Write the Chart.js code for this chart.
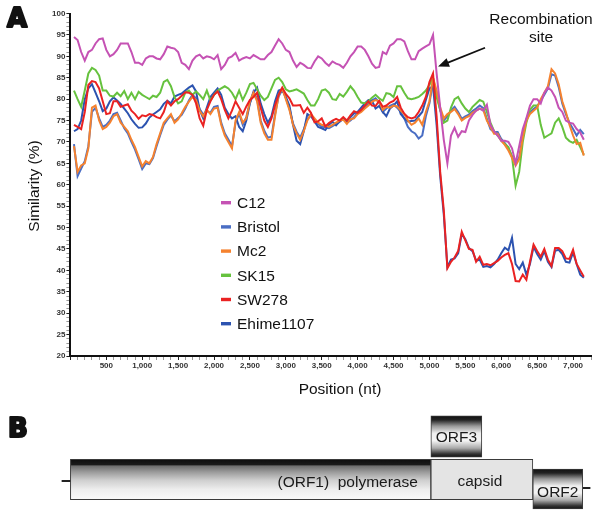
<!DOCTYPE html>
<html>
<head>
<meta charset="utf-8">
<script src="https://cdn.jsdelivr.net/npm/chart.js@4.4.1/dist/chart.umd.min.js"></script>
<style>
  body { margin: 0; background: #fff; }
  #wrap { position: relative; width: 600px; height: 515px; }
  canvas { position: absolute; left: 0; }
  #simChart { top: 0; }
  #genomeChart { top: 400px; }
</style>
</head>
<body>
<div id="wrap">
  <canvas id="simChart" width="600" height="400"></canvas>
  <canvas id="genomeChart" width="600" height="115"></canvas>
</div>
<script>
// ---- data ----
const positions = [
  50, 100, 150, 200, 250, 300, 350, 400, 450, 500,
  550, 600, 650, 700, 750, 800, 850, 900, 950, 1000,
  1050, 1100, 1150, 1200, 1250, 1300, 1350, 1400, 1450, 1500,
  1550, 1600, 1650, 1700, 1750, 1800, 1850, 1900, 1950, 2000,
  2050, 2100, 2150, 2200, 2250, 2300, 2350, 2400, 2450, 2500,
  2550, 2600, 2650, 2700, 2750, 2800, 2850, 2900, 2950, 3000,
  3050, 3100, 3150, 3200, 3250, 3300, 3350, 3400, 3450, 3500,
  3550, 3600, 3650, 3700, 3750, 3800, 3850, 3900, 3950, 4000,
  4050, 4100, 4150, 4200, 4250, 4300, 4350, 4400, 4450, 4500,
  4550, 4600, 4650, 4700, 4750, 4800, 4850, 4900, 4950, 5000,
  5050, 5100, 5150, 5200, 5250, 5300, 5350, 5400, 5450, 5500,
  5550, 5600, 5650, 5700, 5750, 5800, 5850, 5900, 5950, 6000,
  6050, 6100, 6150, 6200, 6250, 6300, 6350, 6400, 6450, 6500,
  6550, 6600, 6650, 6700, 6750, 6800, 6850, 6900, 6950, 7000,
  7050, 7100, 7150
];

const c12 = [
  94.5, 93.8, 91, 89, 91, 91.5, 93, 94, 94.2, 91.5,
  90, 90.5, 91.5, 93, 93, 93, 91, 88.5, 88.5, 88,
  89.5, 90, 90, 89.5, 89.3, 90.5, 92.3, 92, 91.8, 91,
  88.5, 88, 87, 89, 90, 90.4, 89.5, 90, 89.8, 89.3,
  90.3, 87, 88, 89.6, 90, 90.8, 89, 89.5, 89.8, 89.5,
  90.3, 89.8, 89.3, 89.3, 90.3, 91, 92.5, 94, 93, 91.5,
  91, 89, 87.5, 88.5, 88, 87.3, 87.2, 88.8, 90, 89.5,
  88.5, 87.8, 88.8, 88.3, 88, 87.3, 88.5, 90, 91, 92.3,
  92.3, 91.5, 90, 88.3, 87.3, 87.5, 91, 90.5, 92.5, 93,
  94, 94, 93.5, 91.2, 89.3, 89.3, 91.2, 91.8, 92.3, 92.8,
  95, 86, 78, 70.5, 65, 71.5, 73.3, 71.2, 72.5, 72.3,
  75, 76.3, 77.3, 77.8, 77.3, 78.7, 74, 72.5, 71.5, 70.3,
  70.3, 70, 68.5, 65, 69, 73, 75.5, 78.5, 80, 80,
  79, 81.5, 82.7, 82, 80.5, 78, 77, 75, 74.5, 74.3,
  73, 72.2, 70.5
];

const bristol = [
  69.5, 62, 63.8, 65.5, 69, 77, 78, 75.5, 73.5, 74,
  75, 76.5, 76.8, 75, 73.2, 72, 70, 68.2, 66, 63.7,
  65, 64.8, 66.2, 69, 71.6, 74, 75.2, 76.2, 74.8, 75.6,
  76.3, 77.8, 79.7, 81, 80.2, 77.7, 76.4, 77.2, 76.8, 78.2,
  78.4, 74.5, 72, 70.6, 69, 74.5, 76.6, 74, 75.8, 79.2,
  81.8, 80, 75, 72.6, 71, 71.2, 76.5, 80.6, 82.2, 80.3,
  77.8, 74.3, 72.4, 71, 72.9, 75.3, 76.2, 75.2, 74.2, 73.6,
  73.4, 73.2, 73.7, 74.2, 74.7, 75.5, 74.5, 75, 75.8, 76.8,
  77.4, 78.1, 78.8, 79.7, 80.2, 79.2, 77, 77.8, 78.4, 78.8,
  78, 77, 75.5, 73.5, 72.5, 72, 70.8, 71.5, 76, 79,
  84, 81.3, 77.4, 75, 76, 77.4, 78.2, 77, 75.4, 76,
  76.4, 77.2, 77.8, 78.5, 77.9, 75.4, 73, 72.3, 72.3, 70.7,
  69.7, 68.5, 66.6, 65, 66.4, 71.4, 75.4, 76.9, 77.7, 78.3,
  79.6, 81, 82.5, 85.8, 85.5, 82.8, 79, 76.5, 74.5, 73,
  71.5, 72.8, 71.8
];

const mc2 = [
  69, 63, 64.5, 65, 68.5, 78, 78.5, 75, 73, 73.5,
  74.5, 76, 76.5, 74.5, 73.5, 72.5, 70.5, 68.8, 66.5, 64.3,
  65.5, 65, 66.5, 69.5, 72, 74.5, 75.5, 76.5, 74.5, 75.3,
  76.7, 78.2, 79.4, 80.5, 79.8, 77.3, 76, 77.5, 76.5, 77.8,
  78, 74, 71.5, 70, 68.5, 75, 77, 74.5, 75.5, 79.5,
  81.5, 79.5, 74.5, 72, 70.5, 70.5, 76, 81, 82.5, 80,
  77.5, 74, 72, 70.5, 72.5, 75, 76.5, 75.5, 74.5, 74,
  73.8, 73.5, 74, 74.5, 75, 75.2, 74.2, 75.3, 75.5, 76.5,
  77, 77.8, 78.5, 79.4, 79.8, 79.5, 77.5, 78.2, 78, 78.5,
  78.3, 77.3, 76.5, 75, 74, 74.5, 75.5, 74, 77, 79.5,
  85, 82, 78, 75.5, 76.5, 77, 77.7, 76.5, 75, 75.6,
  76, 76.8, 77.3, 77.8, 77.5, 75, 73.5, 71.9, 71.9, 70.3,
  69.3, 68, 66.3, 64.5, 66, 71, 75, 76.5, 77.3, 78,
  80, 81.5, 83, 87, 86, 83.5, 79.5, 77, 74, 71.5,
  69.5, 69.8, 66.8
];

const sk15 = [
  82, 80, 78.2, 82, 86, 87.3, 86.8, 85.5, 82, 82,
  80.8, 80.6, 81.5, 80.7, 81.9, 80, 81.5, 80, 81.7, 81,
  80.5, 80, 80.8, 80.5, 81.5, 84, 84.5, 83, 80.5, 79,
  79.5, 81.5, 82, 81, 81.8, 81, 80, 82, 79.7, 81,
  82, 82.5, 83, 82.5, 81.5, 80, 82, 79.8, 81.5, 83.5,
  83.8, 82.3, 80.8, 79.8, 80.5, 82.5, 84.5, 85, 84, 82.3,
  81.8, 82, 82.3, 81.8, 81.3, 79.8, 78.5, 78.5, 80, 82,
  82.3, 81.5, 80, 79.8, 81.2, 80.6, 81.7, 83, 82, 80.5,
  79.2, 79, 79.5, 80.3, 81, 80.2, 79.6, 81.4, 81.2, 80.5,
  83, 83, 81.5, 80.2, 80, 80.2, 80.5, 81.2, 82, 83.3,
  85, 80.5, 77.5, 74.5, 75, 78, 80, 80.5, 79, 77.8,
  77, 78.2, 79, 79.8, 79.4, 77, 74.5, 72.5, 71.5, 70.3,
  69.5, 68.8, 66.5, 59.8, 63, 70, 74.5, 77.5, 78.5, 78.5,
  74, 71, 71.5, 72, 74.5, 75.5, 73.5, 71, 70.2, 69.8,
  70.5, 68.8, 67
];

const sw278 = [
  74, 73.5, 73, 77, 83.3, 84.2, 84, 82.5, 79.5, 76.5,
  76.7, 79.5, 79.5, 78.2, 78.5, 78.8, 77.3, 76.5, 75.4, 76.2,
  76, 76.5, 76.3, 75.8, 75.5, 77, 79.5, 78.5, 79.5, 80,
  80.8, 81.6, 81.5, 81, 79, 75.5, 73.8, 77.5, 79.5, 81,
  81.8, 80, 77.5, 75.5, 77.3, 79.5, 78, 76.5, 78.3, 79.8,
  80.5, 81.5, 78, 75, 73.5, 75.5, 78.5, 81, 82.7, 81.2,
  80.2, 78.5, 78.5, 78.6, 76.8, 78, 76.8, 74.6, 74.8, 75.5,
  73.6, 74.4, 75, 75.4, 75, 75.8, 75, 76.2, 77.2, 76.8,
  77.5, 78.5, 79.5, 78.5, 78.4, 79.6, 78.2, 78.5, 79.2, 79.6,
  80.5, 78, 76.6, 75.8, 75.5, 75.8, 77, 78.5, 80.5, 84,
  86, 76, 63, 54, 40.5, 42, 43, 44.5, 49, 47,
  45, 44.8, 42, 43.2, 41.3, 41.5, 41.2, 41.7, 42.2, 43,
  43.6, 44, 41.5, 37.5, 37.4, 39, 37.8, 42, 46, 44.5,
  43.2, 45, 42.5, 41, 45.2, 45.2, 44.5, 42.8, 42.7, 44.8,
  41.5, 40, 38.5
];

const ehime1107 = [
  72.5, 73, 75, 80, 82.5, 83.5, 81.5, 79.5, 77.2, 77.8,
  79.5, 80.4, 79.7, 78.9, 77.8, 76.7, 75.3, 74.2, 73.3, 73.4,
  74.3, 75.7, 76.4, 77, 77.6, 78.9, 79.6, 79, 80.6, 81,
  81.3, 82, 82.7, 83.2, 81.8, 77.5, 75.5, 78, 80.5, 81.5,
  82.5, 81, 78, 76.5, 75.5, 76, 73.5, 72.5, 75, 79,
  81.5, 82.7, 79, 76.5, 74.5, 76, 79.5, 82, 82.3, 80.5,
  78.5, 74, 70.3, 69.5, 72.5, 76.5, 76, 74.8, 73.5, 73.2,
  72.8, 74, 74.7, 73.9, 74.8, 75.3, 74.7, 75.8, 76.7, 77,
  78, 79, 79.8, 79.6, 77.8, 78.4, 77, 76, 77.8, 78.5,
  79.5, 76.5, 75.5, 74.8, 74.9, 75, 76, 77, 79.8, 82.5,
  83, 74, 62, 53, 40.8, 42.5, 42.8, 44, 48.5, 47.3,
  45.2, 44.5, 42.3, 42.5, 40.8, 41, 40.7, 41.5, 42.5, 44,
  45.3, 44.7, 47.6, 41.5, 40.3, 41.8, 39, 41.5, 45.5, 43.8,
  42.5, 44.5, 42, 40.8, 44.6, 44.8, 43.8, 42, 41.8, 44.2,
  41.5, 39, 38.3
];

const seriesNames = ['C12', 'Bristol', 'Mc2', 'SK15', 'SW278', 'Ehime1107'];
const seriesValues = [c12, bristol, mc2, sk15, sw278, ehime1107];

// genome map (nt)
const geneLabels = ['(ORF1)  polymerase', 'capsid', 'ORF3', 'ORF2'];
const geneStart = [0, 5020, 5020, 6440];
const geneEnd = [5020, 6440, 5730, 7135];
const leftFlank = [-117, 0];
const rightFlank = [7135, 7237];

// ---- styles / layout ----
const FONT = "'Liberation Sans', Arial, sans-serif";
const seriesColors = ['#c552b4', '#4a6ec4', '#f5822f', '#66c23e', '#ea2222', '#2c53b0'];
const drawOrder = [0, 5, 2, 3, 1, 4]; // lower = drawn on top

function withCommas(v) {
  return String(v).replace(/\B(?=(\d{3})+(?!\d))/g, ',');
}

function panelLetter(ctx, txt, x, y) {
  ctx.fillStyle = '#111';
  ctx.strokeStyle = '#111';
  ctx.lineWidth = 2.2;
  ctx.lineJoin = 'round';
  ctx.font = "bold 26px 'DejaVu Sans', sans-serif";
  ctx.textAlign = 'left';
  ctx.textBaseline = 'middle';
  ctx.strokeText(txt, x, y);
  ctx.fillText(txt, x, y);
}

const panelA = {
  id: 'panelA',
  afterDraw(chart) {
    const ctx = chart.ctx;
    const x = chart.scales.x, y = chart.scales.y;
    ctx.save();

    panelLetter(ctx, 'A', 7, 20);

    // axis titles
    ctx.font = '15.5px ' + FONT;
    ctx.fillStyle = '#111';
    ctx.textAlign = 'center';
    ctx.fillText('Position (nt)', 340, 390);
    ctx.save();
    ctx.translate(35, 186);
    ctx.rotate(-Math.PI / 2);
    ctx.fillText('Similarity (%)', 0, 0);
    ctx.restore();

    // legend
    chart.data.datasets.forEach((ds, i) => {
      const ly = 202.7 + 24.2 * i;
      ctx.fillStyle = ds.borderColor;
      ctx.fillRect(221, ly - 1.7, 10, 3.4);
      ctx.fillStyle = '#111';
      ctx.textAlign = 'left';
      ctx.fillText(ds.label, 237, ly + 1);
    });

    // recombination site annotation
    ctx.textAlign = 'center';
    ctx.fillText('Recombination', x.getPixelForValue(6554), y.getPixelForValue(98.5));
    ctx.fillText('site', x.getPixelForValue(6554), y.getPixelForValue(94.3));

    const tx = x.getPixelForValue(5120), ty = y.getPixelForValue(87.6);
    const sx = x.getPixelForValue(5774), sy = y.getPixelForValue(92.0);
    const ang = Math.atan2(ty - sy, tx - sx);
    ctx.strokeStyle = '#111';
    ctx.lineWidth = 1.8;
    ctx.beginPath();
    ctx.moveTo(sx, sy);
    ctx.lineTo(tx - 8 * Math.cos(ang), ty - 8 * Math.sin(ang));
    ctx.stroke();
    ctx.fillStyle = '#111';
    ctx.beginPath();
    ctx.moveTo(tx, ty);
    ctx.lineTo(tx - 11 * Math.cos(ang) + 4.5 * Math.sin(ang), ty - 11 * Math.sin(ang) - 4.5 * Math.cos(ang));
    ctx.lineTo(tx - 11 * Math.cos(ang) - 4.5 * Math.sin(ang), ty - 11 * Math.sin(ang) + 4.5 * Math.cos(ang));
    ctx.closePath();
    ctx.fill();
    ctx.restore();
  }
};

new Chart(document.getElementById('simChart'), {
  type: 'line',
  data: {
    labels: positions,
    datasets: seriesNames.map((name, i) => ({
      label: name,
      data: seriesValues[i],
      borderColor: seriesColors[i],
      borderWidth: 2,
      pointRadius: 0,
      tension: 0,
      order: drawOrder[i]
    }))
  },
  options: {
    responsive: false,
    animation: false,
    layout: { padding: { left: 0, top: 13.5, right: 9, bottom: 0 } },
    plugins: { legend: { display: false }, tooltip: { enabled: false } },
    scales: {
      x: {
        type: 'linear',
        min: 0,
        max: 7250,
        afterFit: (s) => { s.height = 44; },
        ticks: {
          stepSize: 100,
          maxTicksLimit: 1000,
          autoSkip: false,
          maxRotation: 0,
          minRotation: 0,
          padding: 1,
          color: '#333',
          font: { family: FONT, size: 8, weight: 'bold' },
          callback: (v) => (v > 0 && v % 500 === 0) ? withCommas(v) : ''
        },
        grid: {
          drawOnChartArea: false,
          drawTicks: true,
          tickLength: 4,
          tickColor: (c) => (c.tick && c.tick.value % 500 === 0) ? '#222' : '#999'
        },
        border: { display: true, color: '#111', width: 2 }
      },
      y: {
        min: 20,
        max: 100,
        afterFit: (s) => { s.width = 70.4; },
        ticks: {
          stepSize: 1,
          maxTicksLimit: 1000,
          autoSkip: false,
          padding: 1,
          color: '#333',
          font: { family: FONT, size: 8, weight: 'bold' },
          callback: (v) => (v % 5 === 0) ? v : ''
        },
        grid: {
          drawOnChartArea: false,
          drawTicks: true,
          tickLength: 4,
          tickColor: (c) => (c.tick && c.tick.value % 5 === 0) ? '#222' : '#999'
        },
        border: { display: true, color: '#111', width: 2 }
      }
    }
  },
  plugins: [panelA]
});

// ---- panel B: genome map ----
const geneRow = [79.5, 79.5, 36.5, 89];
const geneHeight = [40.5, 40.5, 41.5, 40];

function bandGradient(chart, row, h, stops) {
  const yPix = chart.scales.y.getPixelForValue(row);
  if (!isFinite(yPix)) return '#ccc';
  const g = chart.ctx.createLinearGradient(0, yPix - h / 2, 0, yPix + h / 2);
  stops.forEach((s) => g.addColorStop(s[0], s[1]));
  return g;
}

const orf1Stops = [[0, '#0d0d0d'], [0.13, '#1a1a1a'], [0.17, '#6e6e6e'], [0.32, '#9c9c9c'], [0.52, '#cfcfcf'], [0.75, '#eeeeee'], [1, '#fafafa']];
const tubeStops = [[0, '#111'], [0.1, '#222'], [0.25, '#999'], [0.42, '#eeeeee'], [0.6, '#f4f4f4'], [0.78, '#aaa'], [0.92, '#333'], [1, '#111']];
const geneFill = [
  (c) => bandGradient(c.chart, geneRow[0], geneHeight[0], orf1Stops),
  '#e4e4e4',
  (c) => bandGradient(c.chart, geneRow[2], geneHeight[2], tubeStops),
  (c) => bandGradient(c.chart, geneRow[3], geneHeight[3], tubeStops)
];
const labelShift = [[-13, 3, 'right'], [-2, 2.5, 'center'], [0, 1.5, 'center'], [0, 4, 'center']];

const panelB = {
  id: 'panelB',
  afterDatasetsDraw(chart) {
    const ctx = chart.ctx;
    ctx.save();
    panelLetter(ctx, 'B', 8, 30);

    ctx.font = '15.5px ' + FONT;
    ctx.fillStyle = '#1a1a1a';
    geneLabels.forEach((txt, i) => {
      const el = chart.getDatasetMeta(i).data[0];
      const left = Math.min(el.x, el.base), right = Math.max(el.x, el.base);
      const [dx, dy, align] = labelShift[i];
      ctx.textAlign = align;
      const px = align === 'right' ? right + dx : (left + right) / 2 + dx;
      ctx.fillText(txt, px, el.y + dy);
    });
    ctx.restore();
  }
};

new Chart(document.getElementById('genomeChart'), {
  type: 'bar',
  data: {
    datasets: geneLabels.map((name, i) => ({
      label: name,
      data: [{ x: [geneStart[i], geneEnd[i]], y: geneRow[i] }],
      backgroundColor: geneFill[i],
      borderColor: '#3a3a3a',
      borderWidth: 1,
      borderSkipped: false,
      barThickness: geneHeight[i]
    })).concat([{
      label: 'genome',
      data: [{ x: leftFlank, y: 81 }, { x: rightFlank, y: 88 }],
      backgroundColor: '#222',
      borderWidth: 0,
      barThickness: 1.5
    }])
  },
  options: {
    responsive: false,
    animation: false,
    indexAxis: 'y',
    datasets: { bar: { grouped: false } },
    layout: { padding: { left: 59.6, right: 9, top: 0, bottom: 0 } },
    plugins: { legend: { display: false }, tooltip: { enabled: false } },
    scales: {
      x: { type: 'linear', min: -150, max: 7250, display: false },
      y: { type: 'linear', min: 0, max: 115, reverse: true, offset: false, display: false }
    }
  },
  plugins: [panelB]
});
</script>
</body>
</html>
